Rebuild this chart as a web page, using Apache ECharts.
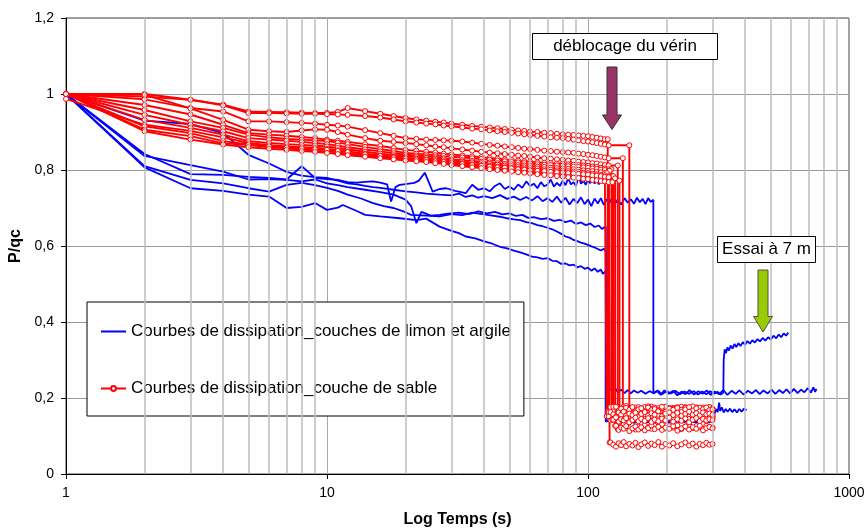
<!DOCTYPE html>
<html><head><meta charset="utf-8">
<script src="https://cdn.jsdelivr.net/npm/echarts@6/dist/echarts.min.js"></script>
<style>html,body{margin:0;padding:0;background:#fff}#c{width:865px;height:529px}</style>
</head><body><div id="c"></div>
<script>
// ---------- axes ----------
const X_TICKS = [1, 10, 100, 1000];
const Y_TICKS = [0, 0.2, 0.4, 0.6, 0.8, 1, 1.2];
const MINOR_X = [2,3,4,5,6,7,8,9,20,30,40,50,60,70,80,90,200,300,400,500,600,700,800,900];
const BLUE_NAME = 'Courbes de dissipation_couches de limon et argile';
const RED_NAME = 'Courbes de dissipation_couche de sable';
const NOTE_1 = 'déblocage du vérin';
const NOTE_2 = 'Essai à 7 m';

// ---------- blue series (silt / clay) : [time s, P/qc] ----------
const BLUE_1 = [[1,1],[2,0.93],[3,0.921],[4,0.897],[5,0.84],[6,0.817],[7,0.795],[8,0.785],[9,0.781],[10,0.779],[11,0.772],[12,0.765],[13,0.762],[14,0.758],[15,0.755],[16,0.753],[18,0.748],[20,0.744],[22,0.741],[24,0.738],[27,0.735],[30,0.733],[32,0.738],[34,0.729],[36,0.733],[38,0.727],[40,0.731],[43,0.726],[46,0.734],[49,0.724],[52,0.73],[55,0.721],[58,0.729],[61,0.72],[64,0.731],[67,0.718],[70,0.726],[73,0.716],[76,0.73],[79,0.714],[82,0.727],[85,0.709],[88,0.724],[91,0.713],[94,0.728],[97,0.71],[100,0.722],[103,0.705],[106,0.725],[109,0.712],[112,0.726],[115,0.708],[118,0.723],[121,0.714],[124,0.728],[127,0.712],[130,0.722],[134,0.709],[138,0.726],[142,0.714],[146,0.723],[150,0.711],[154,0.727],[158,0.715],[162,0.724],[166,0.71],[170,0.726],[174,0.716],[178,0.722],[178,0.212],[184,0.218],[190,0.208],[196,0.22],[204,0.211],[212,0.219],[220,0.207],[228,0.217],[236,0.21],[245,0.221],[255,0.209],[265,0.218],[275,0.211],[285,0.22],[295,0.208],[305,0.217],[318,0.21],[330,0.221],[342,0.208],[355,0.219],[368,0.211],[380,0.22],[395,0.209],[410,0.219],[425,0.212],[440,0.221],[455,0.21],[470,0.22],[488,0.212],[505,0.222],[522,0.211],[540,0.221],[558,0.213],[576,0.223],[595,0.212],[615,0.224],[635,0.213],[655,0.222],[675,0.215],[695,0.226],[715,0.214],[730,0.228],[742,0.216],[750,0.224]];
const BLUE_2 = [[1,1],[2,0.842],[3,0.789],[4,0.787],[5,0.782],[6,0.779],[7,0.775],[8,0.81],[9,0.779],[10,0.776],[11,0.774],[12,0.768],[13,0.767],[14,0.769],[15,0.77],[16,0.767],[17,0.762],[17.6,0.717],[18.3,0.755],[19,0.761],[20,0.763],[21.6,0.766],[22.5,0.772],[23.7,0.793],[25.4,0.743],[27,0.75],[28.6,0.752],[31,0.745],[34,0.739],[36,0.761],[38,0.748],[40,0.752],[42,0.744],[44,0.758],[46,0.765],[48,0.75],[50,0.757],[52,0.748],[54,0.762],[56,0.753],[58,0.77],[60,0.758],[62,0.764],[64,0.752],[66,0.768],[68,0.757],[70,0.762],[72,0.775],[74,0.756],[76,0.766],[78,0.758],[80,0.772],[82,0.76],[84,0.778],[86,0.762],[88,0.768],[90,0.758],[92,0.785],[94,0.764],[96,0.772],[98,0.761],[100,0.776],[102,0.765],[104,0.782],[106,0.764],[108,0.774],[110,0.762],[112,0.786],[114,0.766],[116,0.775],[118,0.765],[120,0.772],[121,0.772],[121,0.224],[124,0.218],[127,0.226],[130,0.215],[134,0.222],[138,0.213],[142,0.221],[146,0.212],[150,0.22],[155,0.214],[160,0.219],[166,0.211],[172,0.218],[178,0.213],[185,0.22],[192,0.21],[200,0.218],[208,0.212],[216,0.219],[225,0.21],[234,0.217],[244,0.211],[254,0.218],[264,0.209],[274,0.217],[284,0.21],[294,0.218],[304,0.211],[314,0.216],[322,0.209],[330,0.214],[331,0.3],[334,0.328],[338,0.318],[342,0.333],[347,0.325],[352,0.338],[358,0.33],[364,0.342],[370,0.334],[377,0.344],[384,0.337],[392,0.347],[400,0.34],[408,0.35],[417,0.343],[426,0.352],[436,0.346],[446,0.355],[456,0.349],[467,0.358],[478,0.351],[490,0.36],[502,0.354],[514,0.364],[526,0.357],[538,0.367],[550,0.36],[562,0.37],[574,0.364],[585,0.372]];
const BLUE_3 = [[1,1],[2,0.837],[3,0.813],[4,0.796],[5,0.775],[6,0.776],[7,0.774],[8,0.77],[9,0.775],[10,0.765],[11,0.76],[12,0.755],[14,0.748],[16,0.742],[18,0.735],[20,0.722],[21,0.705],[22,0.66],[23,0.69],[25,0.68],[27,0.682],[29,0.685],[32,0.688],[35,0.684],[38,0.691],[41,0.686],[44,0.69],[47,0.683],[50,0.686],[53,0.679],[56,0.682],[59,0.674],[62,0.676],[66,0.671],[70,0.673],[74,0.666],[78,0.669],[82,0.663],[86,0.667],[90,0.658],[94,0.662],[98,0.655],[102,0.659],[106,0.65],[110,0.654],[113,0.645],[117,0.651],[117,0.138],[122,0.141],[130,0.136],[140,0.14],[150,0.135],[160,0.139],[172,0.136],[185,0.14],[200,0.135],[215,0.139],[230,0.136],[245,0.14],[260,0.135],[275,0.139],[290,0.136],[300,0.14],[305,0.158],[310,0.171],[314,0.163],[318,0.188],[321,0.166],[326,0.175],[331,0.162],[337,0.171],[343,0.164],[350,0.172],[357,0.163],[364,0.17],[372,0.162],[380,0.171],[388,0.164],[396,0.172],[405,0.168]];
const BLUE_4 = [[1,1],[2,0.81],[3,0.774],[4,0.765],[5,0.752],[6,0.743],[7,0.761],[8,0.766],[9,0.76],[10,0.753],[11,0.745],[12,0.735],[13.5,0.725],[15,0.713],[16.5,0.705],[18,0.7],[19.5,0.692],[21,0.682],[24,0.68],[27,0.678],[30,0.684],[33,0.681],[36,0.688],[40,0.683],[43,0.68],[46,0.677],[49,0.673],[52,0.67],[55,0.668],[58,0.663],[61,0.66],[64,0.655],[67,0.652],[70,0.648],[73,0.644],[76,0.638],[79,0.632],[82,0.625],[85,0.622],[88,0.616],[91,0.613],[94,0.609],[97,0.606],[100,0.603],[103,0.599],[106,0.596],[109,0.592],[112,0.588],[115,0.593],[117,0.586],[117,0.15],[125,0.147],[135,0.152],[150,0.148],[165,0.151],[180,0.146],[200,0.15],[220,0.147],[240,0.151],[260,0.148],[280,0.15],[290,0.148]];
const BLUE_5 = [[1,1],[2,0.807],[3,0.752],[4,0.745],[5,0.735],[6,0.73],[7,0.7],[8,0.703],[9,0.713],[10,0.695],[11,0.701],[11.5,0.708],[13,0.692],[14,0.682],[16,0.678],[19,0.673],[22,0.668],[24,0.672],[27,0.651],[30,0.64],[32,0.634],[34,0.625],[37,0.62],[40,0.612],[43,0.606],[46,0.598],[49,0.594],[52,0.588],[55,0.583],[58,0.578],[61,0.572],[64,0.57],[67,0.566],[70,0.568],[73,0.561],[76,0.56],[79,0.553],[82,0.554],[85,0.549],[88,0.551],[91,0.544],[94,0.547],[97,0.54],[100,0.543],[103,0.535],[106,0.541],[109,0.532],[112,0.538],[114,0.527],[117,0.534],[117,0.142],[125,0.139],[135,0.143],[150,0.138],[165,0.142],[180,0.137],[200,0.141],[220,0.138],[240,0.142],[260,0.138],[280,0.141],[290,0.139]];

// ---------- red series (sand) ----------
const RED_T = [1,2,3,4,5,6,7,8,9,10,11,12,14,16,18,20,22,24,26,28,30,33,36,39,42,45,48,51,54,57,60,64,68,72,76,80,84,88,92,96,100,104,108,112,116,120];
const RED_DROP_T = [119,144,136,130,123,121,118,125,127,132,120,124];
const PLATEAU_T = [118,120,122,125,128,131,134,137,140,144,148,152,156,160,165,170,175,180,186,192,198,205,212,220,228,236,244,252,260,268,276,284,292,300];

const RED_1 = [1.000,1.000,0.985,0.972,0.954,0.953,0.952,0.951,0.950,0.950,0.953,0.963,0.955,0.948,0.942,0.937,0.933,0.930,0.927,0.925,0.922,0.919,0.916,0.914,0.912,0.910,0.908,0.906,0.904,0.903,0.901,0.900,0.898,0.897,0.895,0.894,0.893,0.892,0.891,0.890,0.889,0.887,0.885,0.883,0.881,0.879];
const RED_2 = [1.000,0.993,0.985,0.970,0.950,0.950,0.949,0.948,0.948,0.947,0.946,0.945,0.942,0.938,0.933,0.928,0.925,0.922,0.920,0.917,0.915,0.912,0.909,0.907,0.904,0.902,0.900,0.898,0.896,0.894,0.892,0.890,0.888,0.886,0.885,0.884,0.882,0.880,0.878,0.876,0.875,0.873,0.871,0.869,0.867,0.865];
const RED_3 = [1.000,0.986,0.963,0.954,0.928,0.928,0.926,0.924,0.922,0.919,0.917,0.914,0.905,0.897,0.890,0.884,0.882,0.880,0.879,0.878,0.877,0.875,0.872,0.869,0.866,0.864,0.862,0.860,0.858,0.856,0.855,0.853,0.851,0.850,0.848,0.847,0.846,0.845,0.843,0.842,0.840,0.839,0.837,0.835,0.833,0.831];
const RED_4 = [1.000,0.998,0.962,0.932,0.906,0.902,0.900,0.904,0.907,0.906,0.900,0.893,0.884,0.877,0.874,0.871,0.868,0.865,0.862,0.860,0.857,0.854,0.851,0.848,0.846,0.844,0.842,0.840,0.838,0.837,0.835,0.833,0.831,0.830,0.828,0.827,0.825,0.824,0.822,0.821,0.820,0.818,0.817,0.815,0.813,0.812];
const RED_5 = [1.000,0.971,0.946,0.919,0.897,0.893,0.890,0.887,0.884,0.880,0.877,0.874,0.868,0.863,0.858,0.853,0.851,0.848,0.846,0.843,0.841,0.838,0.836,0.834,0.832,0.830,0.828,0.826,0.825,0.823,0.822,0.820,0.819,0.818,0.817,0.816,0.815,0.814,0.813,0.812,0.811,0.809,0.808,0.806,0.804,0.802];
const RED_6 = [1.000,0.958,0.928,0.911,0.893,0.886,0.882,0.880,0.878,0.876,0.872,0.868,0.861,0.855,0.850,0.845,0.843,0.841,0.839,0.837,0.835,0.833,0.831,0.829,0.827,0.825,0.823,0.821,0.820,0.818,0.817,0.815,0.814,0.813,0.812,0.811,0.810,0.809,0.808,0.807,0.806,0.804,0.803,0.801,0.800,0.798];
const RED_7 = [1.000,0.945,0.919,0.902,0.884,0.880,0.877,0.874,0.871,0.868,0.864,0.860,0.854,0.849,0.844,0.840,0.838,0.836,0.834,0.831,0.828,0.826,0.824,0.822,0.820,0.818,0.816,0.815,0.813,0.812,0.811,0.809,0.808,0.806,0.805,0.804,0.803,0.802,0.801,0.799,0.798,0.797,0.795,0.794,0.792,0.790];
const RED_8 = [1.000,0.932,0.911,0.893,0.876,0.871,0.868,0.866,0.864,0.862,0.858,0.854,0.848,0.843,0.839,0.836,0.834,0.832,0.830,0.828,0.825,0.822,0.820,0.818,0.816,0.814,0.812,0.810,0.808,0.807,0.805,0.804,0.802,0.801,0.799,0.798,0.797,0.796,0.795,0.793,0.792,0.790,0.789,0.787,0.786,0.784];
const RED_9 = [0.987,0.919,0.903,0.886,0.871,0.865,0.862,0.860,0.858,0.856,0.852,0.849,0.843,0.838,0.835,0.832,0.830,0.828,0.826,0.823,0.820,0.818,0.815,0.813,0.811,0.809,0.807,0.805,0.803,0.802,0.800,0.798,0.797,0.795,0.794,0.793,0.791,0.790,0.789,0.787,0.786,0.784,0.783,0.781,0.780,0.778];
const RED_10 = [1.000,0.915,0.897,0.876,0.867,0.860,0.857,0.854,0.851,0.849,0.846,0.843,0.838,0.834,0.830,0.827,0.825,0.823,0.820,0.818,0.815,0.812,0.810,0.807,0.805,0.803,0.801,0.799,0.797,0.796,0.794,0.792,0.791,0.789,0.788,0.786,0.785,0.784,0.782,0.781,0.780,0.778,0.777,0.775,0.774,0.772];
const RED_11 = [1.000,0.906,0.889,0.870,0.866,0.862,0.859,0.857,0.855,0.853,0.850,0.847,0.841,0.837,0.833,0.830,0.828,0.826,0.823,0.821,0.818,0.816,0.813,0.811,0.809,0.807,0.806,0.804,0.802,0.801,0.799,0.798,0.797,0.795,0.794,0.793,0.792,0.791,0.790,0.789,0.788,0.786,0.785,0.784,0.782,0.781];
const RED_12 = [1.000,0.902,0.880,0.867,0.860,0.856,0.853,0.850,0.848,0.845,0.842,0.839,0.835,0.831,0.828,0.825,0.823,0.821,0.818,0.816,0.813,0.810,0.807,0.805,0.802,0.800,0.798,0.796,0.794,0.793,0.791,0.789,0.787,0.786,0.784,0.783,0.781,0.780,0.779,0.777,0.776,0.774,0.773,0.771,0.770,0.768];

const RED_1_END = [0.171,0.165,0.176,0.168,0.174,0.163,0.172,0.177,0.166,0.17,0.175,0.164,0.171,0.168,0.176,0.165,0.173,0.169,0.162,0.175,0.17,0.166,0.174,0.168,0.177,0.164,0.171,0.167,0.175,0.169,0.163,0.172,0.176,0.17];
const RED_2_END = [0.168,0.174,0.162,0.17,0.176,0.165,0.171,0.167,0.173,0.163,0.169,0.175,0.166,0.172,0.164,0.17,0.177,0.167,0.173,0.161,0.169,0.174,0.166,0.171,0.165,0.176,0.168,0.163,0.172,0.167,0.175,0.166,0.171,0.169];
const RED_3_END = [0.175,0.169,0.178,0.171,0.166,0.177,0.173,0.168,0.179,0.17,0.174,0.167,0.176,0.172,0.165,0.178,0.171,0.175,0.168,0.173,0.177,0.166,0.172,0.176,0.169,0.174,0.167,0.178,0.171,0.175,0.168,0.173,0.176,0.172];
const RED_4_END = [0.126,0.12,0.129,0.122,0.127,0.118,0.125,0.13,0.121,0.124,0.128,0.117,0.125,0.121,0.129,0.123,0.119,0.127,0.124,0.13,0.12,0.126,0.122,0.128,0.118,0.125,0.129,0.121,0.126,0.123,0.119,0.127,0.124,0.122];
const RED_5_END = [0.158,0.151,0.161,0.154,0.148,0.159,0.155,0.162,0.15,0.157,0.153,0.16,0.147,0.156,0.152,0.161,0.155,0.149,0.158,0.154,0.162,0.15,0.157,0.153,0.16,0.148,0.156,0.159,0.152,0.157,0.15,0.161,0.155,0.153];
const RED_6_END = [0.08,0.074,0.083,0.077,0.072,0.081,0.076,0.084,0.073,0.079,0.075,0.082,0.071,0.078,0.083,0.074,0.08,0.076,0.084,0.072,0.079,0.075,0.081,0.073,0.078,0.083,0.075,0.08,0.072,0.079,0.076,0.082,0.077,0.079];
const RED_7_END = [0.146,0.152,0.141,0.149,0.155,0.143,0.15,0.145,0.153,0.14,0.148,0.154,0.144,0.151,0.147,0.156,0.142,0.149,0.145,0.153,0.141,0.15,0.146,0.155,0.143,0.148,0.152,0.144,0.15,0.147,0.154,0.142,0.149,0.146];
const RED_8_END = [0.168,0.175,0.164,0.171,0.177,0.166,0.172,0.163,0.174,0.169,0.176,0.165,0.17,0.173,0.162,0.175,0.168,0.171,0.166,0.177,0.164,0.172,0.169,0.174,0.163,0.17,0.176,0.167,0.173,0.165,0.171,0.175,0.168,0.17];
const RED_9_END = [0.118,0.124,0.114,0.121,0.127,0.116,0.122,0.119,0.126,0.113,0.12,0.125,0.117,0.123,0.115,0.121,0.128,0.118,0.124,0.116,0.122,0.119,0.126,0.114,0.12,0.125,0.117,0.123,0.119,0.127,0.115,0.121,0.124,0.12];
const RED_10_END = [0.152,0.146,0.156,0.149,0.143,0.155,0.15,0.157,0.145,0.152,0.148,0.154,0.144,0.151,0.158,0.147,0.153,0.149,0.156,0.143,0.15,0.155,0.146,0.152,0.148,0.157,0.145,0.151,0.154,0.147,0.153,0.149,0.155,0.15];
const RED_11_END = [0.16,0.154,0.163,0.157,0.151,0.162,0.156,0.164,0.153,0.159,0.155,0.161,0.15,0.158,0.163,0.154,0.16,0.156,0.165,0.152,0.159,0.162,0.155,0.161,0.153,0.158,0.164,0.156,0.16,0.154,0.162,0.157,0.159,0.156];
const RED_12_END = [0.14,0.146,0.137,0.143,0.149,0.138,0.144,0.141,0.147,0.136,0.142,0.148,0.139,0.145,0.14,0.147,0.137,0.143,0.139,0.146,0.141,0.148,0.138,0.144,0.14,0.146,0.136,0.143,0.147,0.139,0.145,0.141,0.144,0.142];

const BLUE_SETS = [BLUE_1, BLUE_2, BLUE_3, BLUE_4, BLUE_5];
const RED_DECAYS = [RED_1,RED_2,RED_3,RED_4,RED_5,RED_6,RED_7,RED_8,RED_9,RED_10,RED_11,RED_12];
const RED_ENDS = [RED_1_END,RED_2_END,RED_3_END,RED_4_END,RED_5_END,RED_6_END,RED_7_END,RED_8_END,RED_9_END,RED_10_END,RED_11_END,RED_12_END];

function redPoints(decay, dropT, plateau) {
  const pts = [];
  let last = null;
  for (let i = 0; i < decay.length && i < RED_T.length; i++) {
    if (RED_T[i] <= dropT) { pts.push([RED_T[i], decay[i]]); last = decay[i]; }
  }
  pts.push([dropT, last]);
  let first = true;
  for (let i = 0; i < plateau.length && i < PLATEAU_T.length; i++) {
    if (PLATEAU_T[i] > dropT) {
      if (first) { pts.push([dropT, plateau[i]]); first = false; }
      pts.push([PLATEAU_T[i], plateau[i]]);
    }
  }
  return pts;
}

const series = [];
series.push({
  type: 'line', data: [], z: 1, silent: true,
  markLine: {
    silent: true, animation: false, symbol: ['none', 'none'], label: { show: false },
    lineStyle: { color: '#bdbdbd', width: 1.5, type: 'solid' },
    data: MINOR_X.map(v => ({ xAxis: v }))
  }
});
BLUE_SETS.forEach(d => series.push({
  name: BLUE_NAME, type: 'line', data: d, z: 3, symbol: 'none',
  lineStyle: { color: '#0000ff', width: 1.8 }, itemStyle: { color: '#0000ff' }
}));
RED_DECAYS.forEach((d, k) => series.push({
  name: RED_NAME, type: 'line', data: redPoints(d, RED_DROP_T[k], RED_ENDS[k]), z: 4,
  symbol: 'circle', symbolSize: 5, showAllSymbol: true,
  lineStyle: { color: '#ff0000', width: 1.9 },
  itemStyle: { color: '#ffffff', borderColor: '#ff0000', borderWidth: 1 }
}));

const FONT = '"Liberation Sans", Arial, sans-serif';
const option = {
  animation: false,
  backgroundColor: '#ffffff',
  textStyle: { fontFamily: FONT },
  grid: { left: 66, right: 16, top: 18, bottom: 55, show: true, borderColor: '#404040', borderWidth: 1, containLabel: false, outerBoundsMode: 'none' },
  legend: {
    data: [
      { name: BLUE_NAME, itemStyle: { opacity: 0 } },
      { name: RED_NAME }
    ],
    orient: 'vertical', left: 87, top: 302,
    padding: [21, 13, 19, 13], itemGap: 40, itemWidth: 25, itemHeight: 6,
    backgroundColor: '#ffffff', borderColor: '#000', borderWidth: 1,
    textStyle: { fontSize: 17, color: '#000', fontFamily: FONT }
  },
  xAxis: {
    type: 'log', logBase: 10, min: X_TICKS[0], max: X_TICKS[X_TICKS.length - 1],
    name: 'Log Temps (s)', nameLocation: 'middle', nameGap: 38,
    nameTextStyle: { fontSize: 16, fontWeight: 'bold', color: '#000', fontFamily: FONT },
    axisLine: { lineStyle: { color: '#000', width: 1 } },
    axisTick: { show: true, length: 5, lineStyle: { color: '#000' } },
    axisLabel: { fontSize: 14, color: '#000', margin: 12, formatter: v => String(Math.round(v)) },
    splitLine: { show: true, lineStyle: { color: '#a8a8a8', width: 1 } }
  },
  yAxis: {
    type: 'value', min: Y_TICKS[0], max: Y_TICKS[Y_TICKS.length - 1], interval: 0.2,
    name: 'P/qc', nameLocation: 'middle', nameGap: 34,
    nameTextStyle: { fontSize: 16, fontWeight: 'bold', color: '#000', fontFamily: FONT },
    axisLine: { show: true, lineStyle: { color: '#000', width: 1 } },
    axisTick: { show: true, length: 5, lineStyle: { color: '#000' } },
    axisLabel: { fontSize: 14, color: '#000', margin: 12, formatter: v => String(+(+v).toFixed(1)).replace('.', ',') },
    splitLine: { show: true, lineStyle: { color: '#999', width: 1 } }
  },
  graphic: [
    { type: 'rect', shape: { x: 532.5, y: 33.5, width: 185, height: 26 }, style: { fill: '#fff', stroke: '#000', lineWidth: 1 }, z: 100 },
    { type: 'text', x: 625, y: 46.5, style: { text: NOTE_1, fontSize: 17, fontFamily: FONT, fill: '#000', textAlign: 'center', textVerticalAlign: 'middle' }, z: 101 },
    { type: 'polygon', shape: { points: [[607,67],[617,67],[617,115],[621.5,115],[612,129.5],[602.5,115],[607,115]] }, style: { fill: '#993366', stroke: '#333', lineWidth: 1 }, z: 100 },
    { type: 'rect', shape: { x: 717.5, y: 236.5, width: 98, height: 26 }, style: { fill: '#fff', stroke: '#000', lineWidth: 1 }, z: 100 },
    { type: 'text', x: 766.5, y: 249.5, style: { text: NOTE_2, fontSize: 17, fontFamily: FONT, fill: '#000', textAlign: 'center', textVerticalAlign: 'middle' }, z: 101 },
    { type: 'polygon', shape: { points: [[758,270],[768,270],[768,316.5],[772.5,316.5],[763,332],[753.5,316.5],[758,316.5]] }, style: { fill: '#99cc00', stroke: '#4d4d4d', lineWidth: 1 }, z: 100 }
  ],
  series: series
};
const chart = echarts.init(document.getElementById('c'));
chart.setOption(option);
</script>
</body></html>
